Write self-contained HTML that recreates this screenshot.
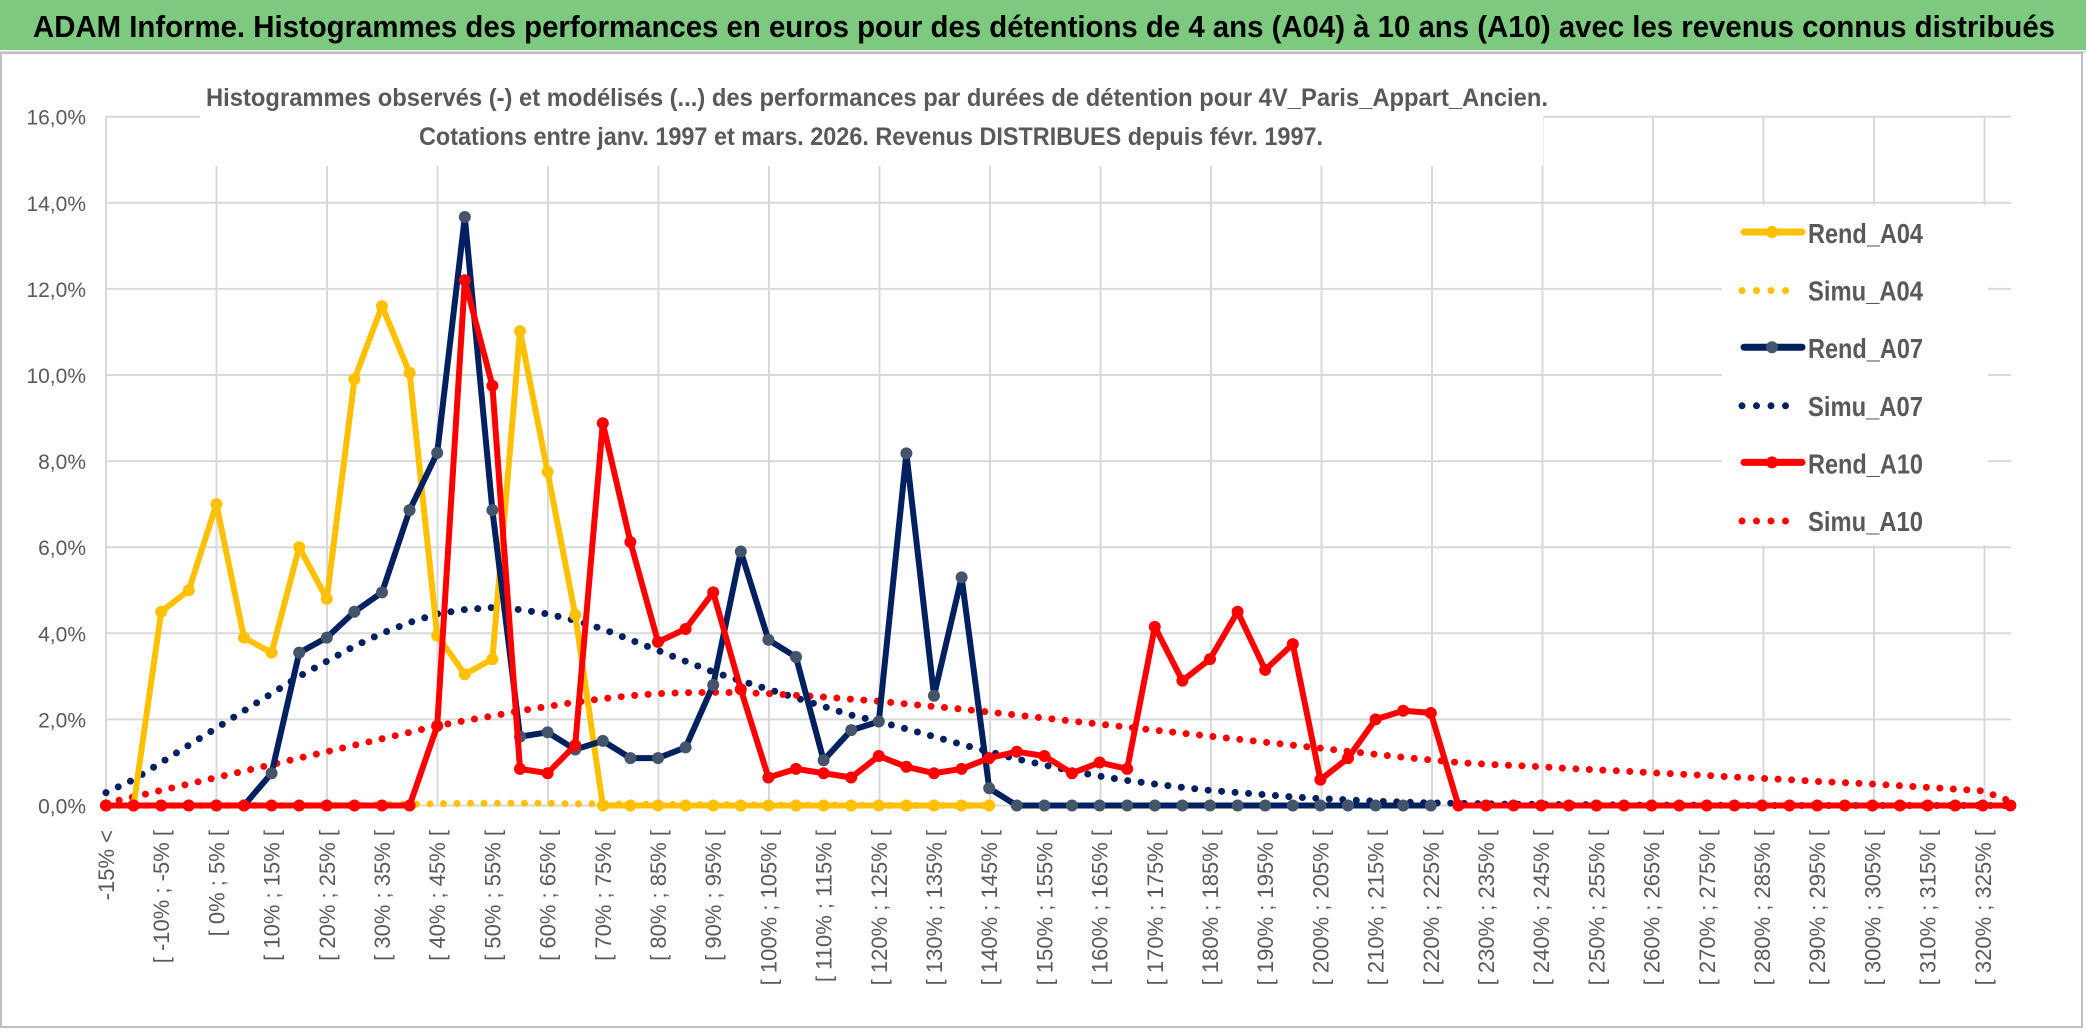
<!DOCTYPE html>
<html><head><meta charset="utf-8"><style>
body{margin:0;background:#fff;}
svg{display:block;font-family:"Liberation Sans",sans-serif;}
</style></head><body>
<svg id="chart" width="2086" height="1031" viewBox="0 0 2086 1031">
<rect x="0" y="0" width="2086" height="1031" fill="#fff"/>
<rect x="0" y="0" width="2086" height="50" fill="#7DC97F"/>
<line x1="0" y1="52" x2="2086" y2="52" stroke="#d9d9d9" stroke-width="2"/>
<text x="33" y="37" font-size="31" font-weight="bold" fill="#000" textLength="2022" lengthAdjust="spacingAndGlyphs">ADAM Informe. Histogrammes des performances en euros pour des détentions de 4 ans (A04) à 10 ans (A10) avec les revenus connus distribués</text>
<rect x="1" y="53" width="2081" height="974" fill="none" stroke="#bfbfbf" stroke-width="2"/>
<g id="grid"></g>
<g id="yaxis"></g>
<g id="xaxis"></g>
<rect x="200" y="78" width="1343" height="88" fill="#fff"/>
<text x="206" y="106" font-size="25" font-weight="bold" fill="#595959" textLength="1342" lengthAdjust="spacingAndGlyphs">Histogrammes observés (-) et modélisés (...) des performances par durées de détention pour 4V_Paris_Appart_Ancien.</text>
<text x="419" y="145" font-size="25" font-weight="bold" fill="#595959" textLength="904" lengthAdjust="spacingAndGlyphs">Cotations entre janv. 1997 et mars. 2026. Revenus DISTRIBUES depuis févr. 1997.</text>
<g id="series"></g>
<g id="legend"></g>
</svg>
<script>
const categoryCount = 70;
const yTicks = [0,2,4,6,8,10,12,14,16];
const rendA04 = [0,0,4.5,5.0,7.0,3.9,3.55,6.0,4.8,9.9,11.6,10.05,3.95,3.05,3.4,11.02,7.75,4.43,0,0,0,0,0,0,0,0,0,0,0,0,0,0,0];
const simuA04 = [0,0,0,0,0,0,0,0,0,0,0.02,0.03,0.04,0.05,0.05,0.05,0.05,0.04,0.04,0.03,0.03,0.02,0.02,0.02,0.01,0.01,0.01,0.01,0,0,0,0,0];
const rendA07 = [0,0,0,0,0,0,0.75,3.55,3.9,4.5,4.95,6.86,8.19,13.67,6.86,1.6,1.7,1.3,1.5,1.1,1.1,1.35,2.8,5.9,3.85,3.45,1.05,1.75,1.95,8.18,2.55,5.3,0.4,0,0,0,0,0,0,0,0,0,0,0,0,0,0,0,0];
const simuA07 = [0.3,0.6,1.0,1.4,1.8,2.2,2.6,3.0,3.35,3.7,4.0,4.25,4.45,4.55,4.6,4.55,4.45,4.3,4.1,3.85,3.6,3.35,3.1,2.9,2.7,2.5,2.3,2.1,1.95,1.78,1.6,1.42,1.25,1.08,0.94,0.8,0.68,0.58,0.5,0.42,0.35,0.3,0.25,0.2,0.16,0.13,0.1,0.08,0.06,0.05,0.04,0.03,0.03,0.02,0.02,0.01,0.01,0.01,0.01,0,0,0,0,0,0,0,0,0,0,0];
const rendA10 = [0,0,0,0,0,0,0,0,0,0,0,0,1.85,12.2,9.75,0.85,0.75,1.4,8.88,6.12,3.8,4.1,4.95,2.7,0.65,0.85,0.75,0.65,1.15,0.9,0.75,0.85,1.1,1.25,1.15,0.75,1.0,0.85,4.15,2.9,3.4,4.5,3.15,3.75,0.6,1.1,2.0,2.2,2.15,0,0,0,0,0,0,0,0,0,0,0,0,0,0,0,0,0,0,0,0,0];
const simuA10 = [0.05,0.2,0.35,0.5,0.65,0.8,0.95,1.1,1.25,1.4,1.55,1.7,1.85,1.97,2.08,2.2,2.3,2.4,2.48,2.55,2.6,2.62,2.63,2.62,2.6,2.56,2.52,2.47,2.42,2.36,2.3,2.24,2.17,2.1,2.03,1.96,1.89,1.82,1.75,1.68,1.61,1.54,1.47,1.4,1.33,1.26,1.19,1.12,1.06,1.0,0.96,0.93,0.9,0.86,0.83,0.8,0.76,0.73,0.7,0.66,0.63,0.6,0.56,0.53,0.5,0.46,0.42,0.38,0.34,0.1];
const legendLabels = ["Rend_A04","Simu_A04","Rend_A07","Simu_A07","Rend_A10","Simu_A10"];

const NS = "http://www.w3.org/2000/svg";
const X0 = 106, DX = 27.6, Y0 = 805.5, PERPCT = 43.05;
function xPos(i){ return X0 + i*DX; }
function yPos(v){ return Y0 - v*PERPCT; }
function mk(tag, attrs, parent){ const e=document.createElementNS(NS,tag); for(const k in attrs) e.setAttribute(k,attrs[k]); parent.appendChild(e); return e; }
function catLabel(i){ if(i===0) return "-15% <"; const a=-20+5*i; return "[ "+a+"% ; "+(a+5)+"% ["; }

const grid = document.getElementById('grid');
yTicks.forEach(t=>{
  const l = mk('line',{x1:X0,x2:2011,y1:yPos(t),y2:yPos(t),stroke:'#d9d9d9','stroke-width':2},grid);
  
  
});
for(let k=0;k<=17;k++){
  const x = X0 + k*110.5;
  const l = mk('line',{x1:x,x2:x,y1:yPos(16),y2:Y0,stroke:'#d9d9d9','stroke-width':2},grid);
  
  
}
const yaxis = document.getElementById('yaxis');
yTicks.forEach(t=>{
  const tx = mk('text',{x:86,y:yPos(t)+8,'text-anchor':'end','font-size':21,fill:'#595959'},yaxis);
  tx.textContent = t.toFixed(1).replace('.',',')+'%';
  
  
});
const xaxis = document.getElementById('xaxis');
for(let i=0;i<categoryCount;i+=2){
  const x = xPos(i);
  const tx = mk('text',{x:0,y:0,'text-anchor':'end','font-size':22,fill:'#595959',transform:'translate('+(x+8)+',830) rotate(-90)'},xaxis);
  tx.textContent = catLabel(i);
  
  
}
const series = document.getElementById('series');
function pts(arr){ return arr.map((v,i)=>xPos(i).toFixed(1)+','+yPos(v).toFixed(1)).join(' '); }
function dotted(arr,color,name){
  const p = mk('polyline',{points:pts(arr),fill:'none',stroke:color,'stroke-width':7,'stroke-linecap':'round','stroke-dasharray':'0 13.5'},series);
  
  
}
function solid(arr,color,mcol,name){
  const g = mk('g',{},series);
  
  
  mk('polyline',{points:pts(arr),fill:'none',stroke:color,'stroke-width':6,'stroke-linejoin':'round'},g);
  arr.forEach((v,i)=>{
    const c = mk('circle',{cx:xPos(i),cy:yPos(v),r:6,fill:mcol},g);
    
    
  });
}
dotted(simuA04,'#FFC000','simu-a04-line');
dotted(simuA07,'#002060','simu-a07-line');
dotted(simuA10,'#FF0000','simu-a10-line');
solid(rendA04,'#FFC000','#FFC000','rend-a04-line');
solid(rendA07,'#002060','#44546A','rend-a07-line');
solid(rendA10,'#FF0000','#FF0000','rend-a10-line');

const legend = document.getElementById('legend');
const lb = mk('rect',{x:1722,y:205,width:266,height:340,fill:'#fff'},legend);


const styles = [['#FFC000','#FFC000',false],['#FFC000',null,true],['#002060','#44546A',false],['#002060',null,true],['#FF0000','#FF0000',false],['#FF0000',null,true]];
legendLabels.forEach((lab,i)=>{
  const y = 232 + i*57.6;
  const g = mk('g',{},legend);
  
  
  const [c,m,dot] = styles[i];
  if(dot){
    mk('line',{x1:1742,x2:1800,y1:y+1,y2:y+1,stroke:c,'stroke-width':7,'stroke-linecap':'round','stroke-dasharray':'0 14.5'},g);
  } else {
    mk('line',{x1:1744,x2:1802,y1:y,y2:y,stroke:c,'stroke-width':7,'stroke-linecap':'round'},g);
    mk('circle',{cx:1772,cy:y,r:6,fill:m},g);
  }
  const t = mk('text',{x:1808,y:y+11,'font-size':28,'font-weight':'bold',fill:'#595959',textLength:115,lengthAdjust:'spacingAndGlyphs'},g);
  t.textContent = lab;
});
</script>
</body></html>
